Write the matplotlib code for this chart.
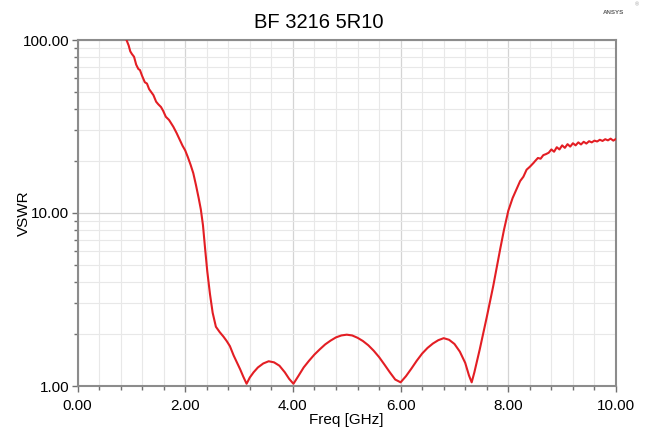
import matplotlib
matplotlib.use('Agg')
import matplotlib.pyplot as plt
from matplotlib.ticker import FixedLocator, LogLocator, NullFormatter

plt.rcParams['font.family'] = ['Liberation Sans', 'DejaVu Sans']

# VSWR curve
freq = [0.91, 0.95, 0.98, 1.01, 1.05, 1.09, 1.13, 1.16, 1.20, 1.25, 1.29, 1.33, 1.37,
        1.41, 1.46, 1.50, 1.55, 1.59, 1.64, 1.70, 1.74, 1.78, 1.84, 1.90, 1.95, 2.00,
        2.05, 2.10, 2.15, 2.20, 2.25, 2.29, 2.33, 2.37, 2.41, 2.46, 2.51, 2.57, 2.64,
        2.71, 2.77, 2.83, 2.90, 2.96, 3.02, 3.08, 3.14,
        3.20, 3.27, 3.35, 3.45, 3.55, 3.65, 3.75, 3.85, 3.93, 4.01,
        4.10, 4.20, 4.30, 4.40, 4.50, 4.60, 4.70, 4.80, 4.90, 5.00, 5.10, 5.20, 5.30,
        5.40, 5.50, 5.60, 5.70, 5.80, 5.90, 6.00,
        6.10, 6.20, 6.30, 6.40, 6.50, 6.60, 6.70, 6.80, 6.90, 7.00, 7.10, 7.20, 7.27, 7.32,
        7.37, 7.47, 7.60, 7.72, 7.85, 7.92, 8.00, 8.08, 8.16, 8.22, 8.28, 8.34, 8.40, 8.47,
        8.50, 8.55, 8.60, 8.65, 8.70, 8.75, 8.80, 8.85, 8.90, 8.95, 9.00, 9.05, 9.10,
        9.15, 9.20, 9.25, 9.30, 9.35, 9.40, 9.45, 9.50, 9.55, 9.60, 9.65, 9.70, 9.75,
        9.80, 9.85, 9.90, 9.95, 10.00]
vswr = [100, 93, 86, 83, 80, 72, 68, 67, 62, 57, 56, 52, 50,
        48, 44, 42.5, 41, 39, 36, 34.5, 33, 31.5, 29, 26.5, 24.5, 23,
        21, 19, 17, 14.5, 12.2, 10.5, 8.5, 6.2, 4.6, 3.4, 2.65, 2.2, 2.05,
        1.93, 1.82, 1.70, 1.50, 1.37, 1.25, 1.13, 1.03,
        1.12, 1.20, 1.28, 1.35, 1.39, 1.37, 1.31, 1.20, 1.10, 1.03,
        1.14, 1.28, 1.40, 1.52, 1.63, 1.74, 1.83, 1.91, 1.96, 1.98, 1.96, 1.90, 1.82,
        1.72, 1.60, 1.47, 1.33, 1.20, 1.09, 1.05,
        1.14, 1.26, 1.40, 1.54, 1.66, 1.76, 1.84, 1.89, 1.85, 1.75, 1.58, 1.36, 1.15, 1.05,
        1.20, 1.63, 2.5, 3.78, 6.2, 8.0, 10.3, 12.2, 13.9, 15.3, 16.2, 17.8, 18.5, 19.5,
        20.0, 20.8, 20.6, 21.6, 21.9, 22.3, 23.3, 22.6, 24.0, 23.3, 24.6, 23.8, 25.0,
        24.2, 25.3, 24.6, 25.6, 24.9, 25.8, 25.2, 26.0, 25.6, 26.2, 25.9, 26.5, 26.1,
        26.7, 26.3, 26.9, 26.2, 26.8]

x_ticks = [0, 2, 4, 6, 8, 10]
x_labels = ['0.00', '2.00', '4.00', '6.00', '8.00', '10.00']
y_ticks = [1, 10, 100]
y_labels = ['1.00', '10.00', '100.00']

fig = plt.figure(figsize=(6.46, 4.33), dpi=100)
ax = fig.add_axes([77.5 / 646, 1 - 386 / 433, (616 - 77.5) / 646, (386 - 40) / 433])

ax.plot(freq, vswr, color='#e31e24', linewidth=1.5, zorder=3)

ax.set_yscale('log')
ax.set_xlim(0, 10)
ax.set_ylim(1, 100)

ax.set_xticks(x_ticks)
ax.set_xticklabels(x_labels)
ax.xaxis.set_minor_locator(FixedLocator([i * 0.4 for i in range(26)]))
ax.set_yticks(y_ticks)
ax.set_yticklabels(y_labels)
ax.yaxis.set_minor_locator(LogLocator(base=10, subs=range(2, 10)))
ax.yaxis.set_minor_formatter(NullFormatter())

ax.grid(which='major', color='#d4d4d4', linewidth=0.9)
ax.grid(which='minor', color='#e8e8e8', linewidth=0.8)
ax.set_axisbelow(True)

for s in ax.spines.values():
    s.set_color('#8c8c8c')
    s.set_linewidth(1.5)

ax.tick_params(which='major', length=4, width=1, color='#707070', labelsize=11)
ax.tick_params(axis='x', which='major', pad=5)
ax.tick_params(axis='y', which='major', pad=2)
ax.tick_params(which='minor', length=3, width=1, color='#707070')

ax.set_xlabel('Freq [GHz]', fontsize=11)
ax.xaxis.set_label_coords(0.5, -0.078)
ax.set_ylabel('VSWR', fontsize=11)
ax.yaxis.set_label_coords(-0.086, 0.5)
fig.text(0.494, 0.949, 'BF 3216 5R10', ha='center', va='center', fontsize=14.5)
fig.text(0.966, 0.97, 'ANSYS', ha='right', va='center', fontsize=4.5,
         fontweight='bold', color='#606060')
fig.text(0.986, 0.988, '\u00ae', ha='center', va='center', fontsize=4, color='#a0a0a0')

fig.savefig('out.png', dpi=100)
